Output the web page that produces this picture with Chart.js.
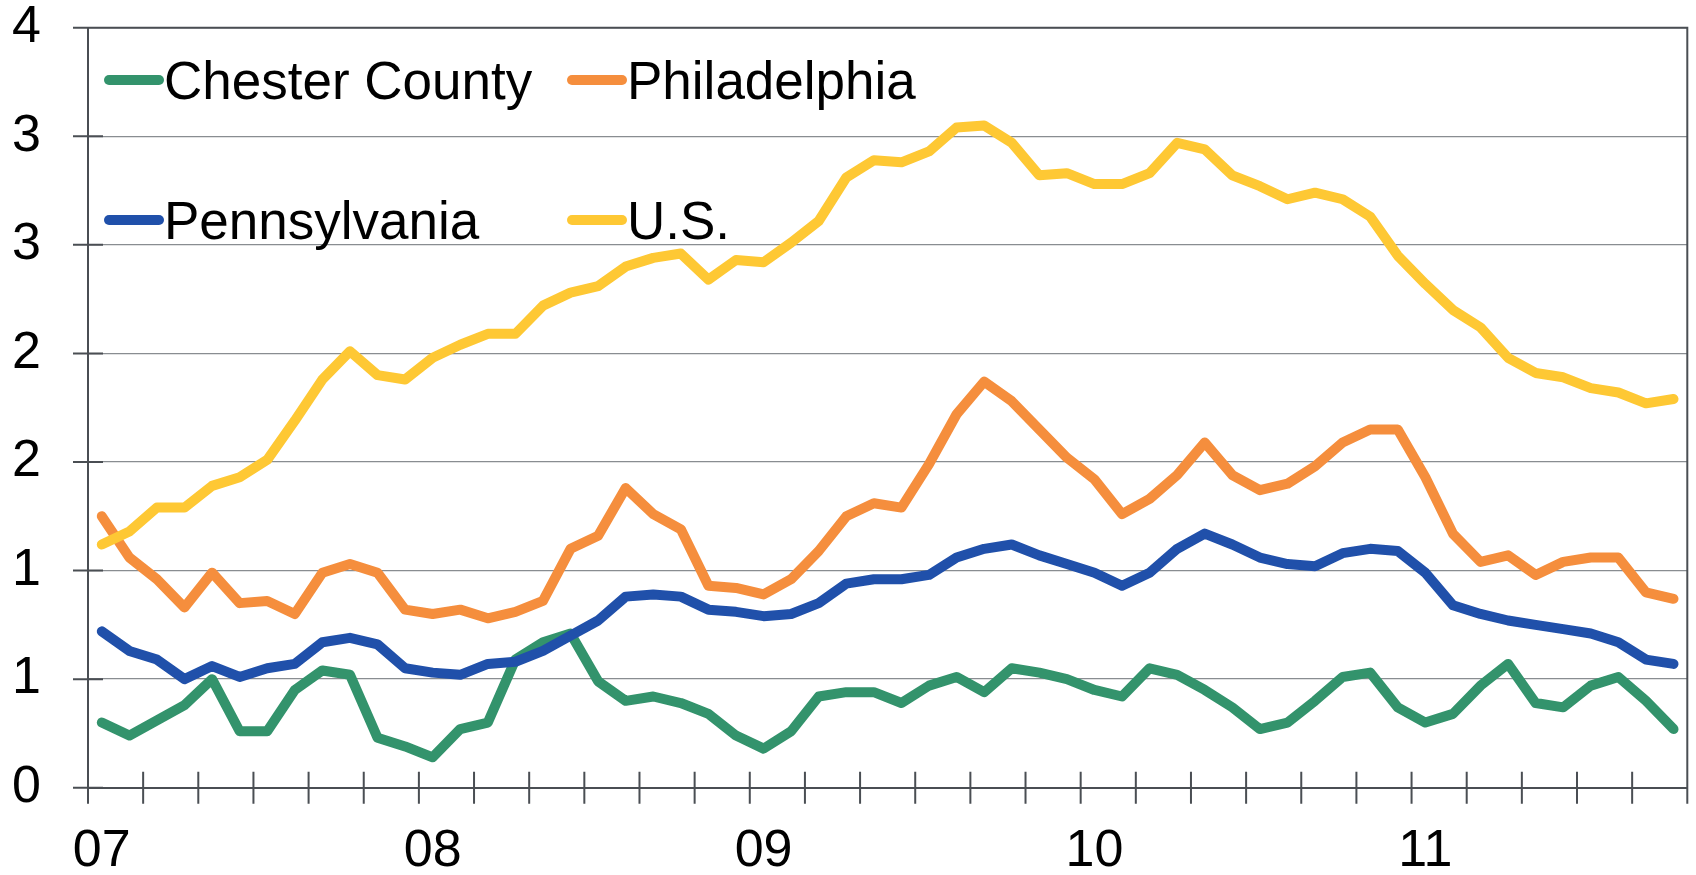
<!DOCTYPE html>
<html>
<head>
<meta charset="utf-8">
<script src="https://cdn.jsdelivr.net/npm/chart.js@4.4.1/dist/chart.umd.min.js"></script>
<style>
  html, body { margin: 0; padding: 0; background: #fff; }
  #wrap { position: relative; width: 1696px; height: 875px; }
  #legend {
    position: absolute; left: 104px; top: 10px;
    display: grid; grid-template-columns: 463px 463px; grid-auto-rows: 140px;
    font-family: 'Liberation Sans', Arial, sans-serif; font-size: 53px; color: #000;
  }
  .item { display: flex; align-items: center; white-space: nowrap; line-height: 1; }
  .swatch { width: 60px; height: 10px; border-radius: 5px; }
</style>
</head>
<body>
<div id="wrap">
  <canvas id="chart" width="1696" height="875"></canvas>
  <div id="legend"></div>
</div>
<script>
// monthly, Jan 2007 .. Oct 2011
const months = [];
for (let y = 2007; y <= 2011; y++) {
  for (let m = 1; m <= 12; m++) {
    if (y === 2011 && m > 10) break;
    months.push(y + '-' + String(m).padStart(2, '0'));
  }
}

const chester = [
  0.30, 0.24, 0.31, 0.38, 0.50, 0.26, 0.26, 0.45, 0.54, 0.52,
  0.23, 0.19, 0.14, 0.27, 0.30, 0.59, 0.67, 0.71, 0.49, 0.40,
  0.42, 0.39, 0.34, 0.24, 0.18, 0.26, 0.42, 0.44, 0.44, 0.39,
  0.47, 0.51, 0.44, 0.55, 0.53, 0.50, 0.45, 0.42, 0.55, 0.52,
  0.45, 0.37, 0.27, 0.30, 0.40, 0.51, 0.53, 0.37, 0.30, 0.34,
  0.47, 0.57, 0.39, 0.37, 0.47, 0.51, 0.40, 0.27
];
const philadelphia = [
  1.25, 1.06, 0.96, 0.83, 0.99, 0.85, 0.86, 0.80, 0.99, 1.03,
  0.99, 0.82, 0.80, 0.82, 0.78, 0.81, 0.86, 1.10, 1.16, 1.38,
  1.26, 1.19, 0.93, 0.92, 0.89, 0.96, 1.09, 1.25, 1.31, 1.29,
  1.49, 1.72, 1.87, 1.78, 1.65, 1.52, 1.42, 1.26, 1.33, 1.44,
  1.59, 1.44, 1.37, 1.40, 1.48, 1.59, 1.65, 1.65, 1.43, 1.17,
  1.04, 1.07, 0.98, 1.04, 1.06, 1.06, 0.90, 0.87
];
const pennsylvania = [
  0.72, 0.63, 0.59, 0.50, 0.56, 0.51, 0.55, 0.57, 0.67, 0.69,
  0.66, 0.55, 0.53, 0.52, 0.57, 0.58, 0.63, 0.70, 0.77, 0.88,
  0.89, 0.88, 0.82, 0.81, 0.79, 0.80, 0.85, 0.94, 0.96, 0.96,
  0.98, 1.06, 1.10, 1.12, 1.07, 1.03, 0.99, 0.93, 0.99, 1.10,
  1.17, 1.12, 1.06, 1.03, 1.02, 1.08, 1.10, 1.09, 0.99, 0.84,
  0.80, 0.77, 0.75, 0.73, 0.71, 0.67, 0.59, 0.57
];
const us = [
  1.12, 1.18, 1.29, 1.29, 1.39, 1.43, 1.51, 1.69, 1.88, 2.01,
  1.90, 1.88, 1.98, 2.04, 2.09, 2.09, 2.22, 2.28, 2.31, 2.40,
  2.44, 2.46, 2.34, 2.43, 2.42, 2.51, 2.61, 2.81, 2.89, 2.88,
  2.93, 3.04, 3.05, 2.97, 2.82, 2.83, 2.78, 2.78, 2.83, 2.97,
  2.94, 2.82, 2.77, 2.71, 2.74, 2.71, 2.63, 2.45, 2.32, 2.20,
  2.12, 1.98, 1.91, 1.89, 1.84, 1.82, 1.77, 1.79
];

const fontFamily = "'Liberation Sans', Arial, sans-serif";
const gridColor = '#898d91';
const axisColor = '#4a4e53';
const clear = 'rgba(0,0,0,0)';

// frame on top/right + tick marks that cross the axes (Excel style)
const axisMarks = {
  id: 'axisMarks',
  afterDraw(chart) {
    const { ctx, chartArea: a, scales: { x, y } } = chart;
    ctx.save();
    ctx.strokeStyle = axisColor;
    ctx.lineWidth = 2;
    ctx.beginPath();
    ctx.moveTo(a.left, a.top);
    ctx.lineTo(a.right, a.top);
    ctx.lineTo(a.right, a.bottom);
    y.ticks.forEach(t => {
      const py = y.getPixelForValue(t.value);
      ctx.moveTo(a.left - 15, py);
      ctx.lineTo(a.left + 15, py);
    });
    const w = (x.right - x.left) / months.length;
    for (let i = 0; i <= months.length; i += 2) {
      const px = x.left + i * w;
      ctx.moveTo(px, a.bottom - 16);
      ctx.lineTo(px, a.bottom + 16);
    }
    ctx.stroke();
    ctx.restore();
  }
};

// legend as html, two columns
const htmlLegend = {
  id: 'htmlLegend',
  afterUpdate(chart) {
    const box = document.getElementById('legend');
    box.innerHTML = '';
    chart.data.datasets.forEach(ds => {
      const item = document.createElement('div');
      item.className = 'item';
      const sw = document.createElement('span');
      sw.className = 'swatch';
      sw.style.background = ds.borderColor;
      const tx = document.createElement('span');
      tx.textContent = ds.label;
      item.append(sw, tx);
      box.appendChild(item);
    });
  }
};

function line(label, data, color, order) {
  return {
    label, data, order,
    borderColor: color,
    backgroundColor: color,
    borderWidth: 10,
    borderCapStyle: 'round',
    borderJoinStyle: 'round',
    pointRadius: 0,
    tension: 0,
    fill: false
  };
}

new Chart(document.getElementById('chart'), {
  type: 'line',
  data: {
    labels: months,
    datasets: [
      line('Chester County', chester, '#33936c', 4),
      line('Philadelphia', philadelphia, '#f58e3d', 3),
      line('Pennsylvania', pennsylvania, '#2050aa', 2),
      line('U.S.', us, '#fec834', 1)
    ]
  },
  options: {
    responsive: false,
    animation: false,
    devicePixelRatio: 1,
    layout: { padding: { top: 27.7, right: 8.7, bottom: 0, left: 0 } },
    plugins: { legend: { display: false }, tooltip: { enabled: false } },
    scales: {
      x: {
        offset: true,
        // invisible tick length keeps the labels clear of the axis
        grid: { color: clear, drawOnChartArea: false, drawTicks: true, tickLength: 37, tickColor: clear },
        border: { color: axisColor, width: 2 },
        ticks: {
          autoSkip: false, maxRotation: 0, minRotation: 0,
          padding: 1, color: '#000',
          font: { family: fontFamily, size: 52, lineHeight: 1 },
          callback: (v, i) => months[i].endsWith('-01') ? months[i].slice(2, 4) : ''
        },
        afterFit: s => { s.height = 87.3; }
      },
      y: {
        min: 0, max: 3.5,
        grid: { color: gridColor, lineWidth: 1.3, drawTicks: true, tickLength: 46, tickColor: clear },
        border: { color: axisColor, width: 2 },
        ticks: {
          stepSize: 0.5, padding: 1, color: '#000',
          font: { family: fontFamily, size: 52, lineHeight: 1 },
          callback: v => Math.round(v)
        },
        afterFit: s => { s.width = 88; }
      }
    }
  },
  plugins: [axisMarks, htmlLegend]
});
</script>
</body>
</html>
